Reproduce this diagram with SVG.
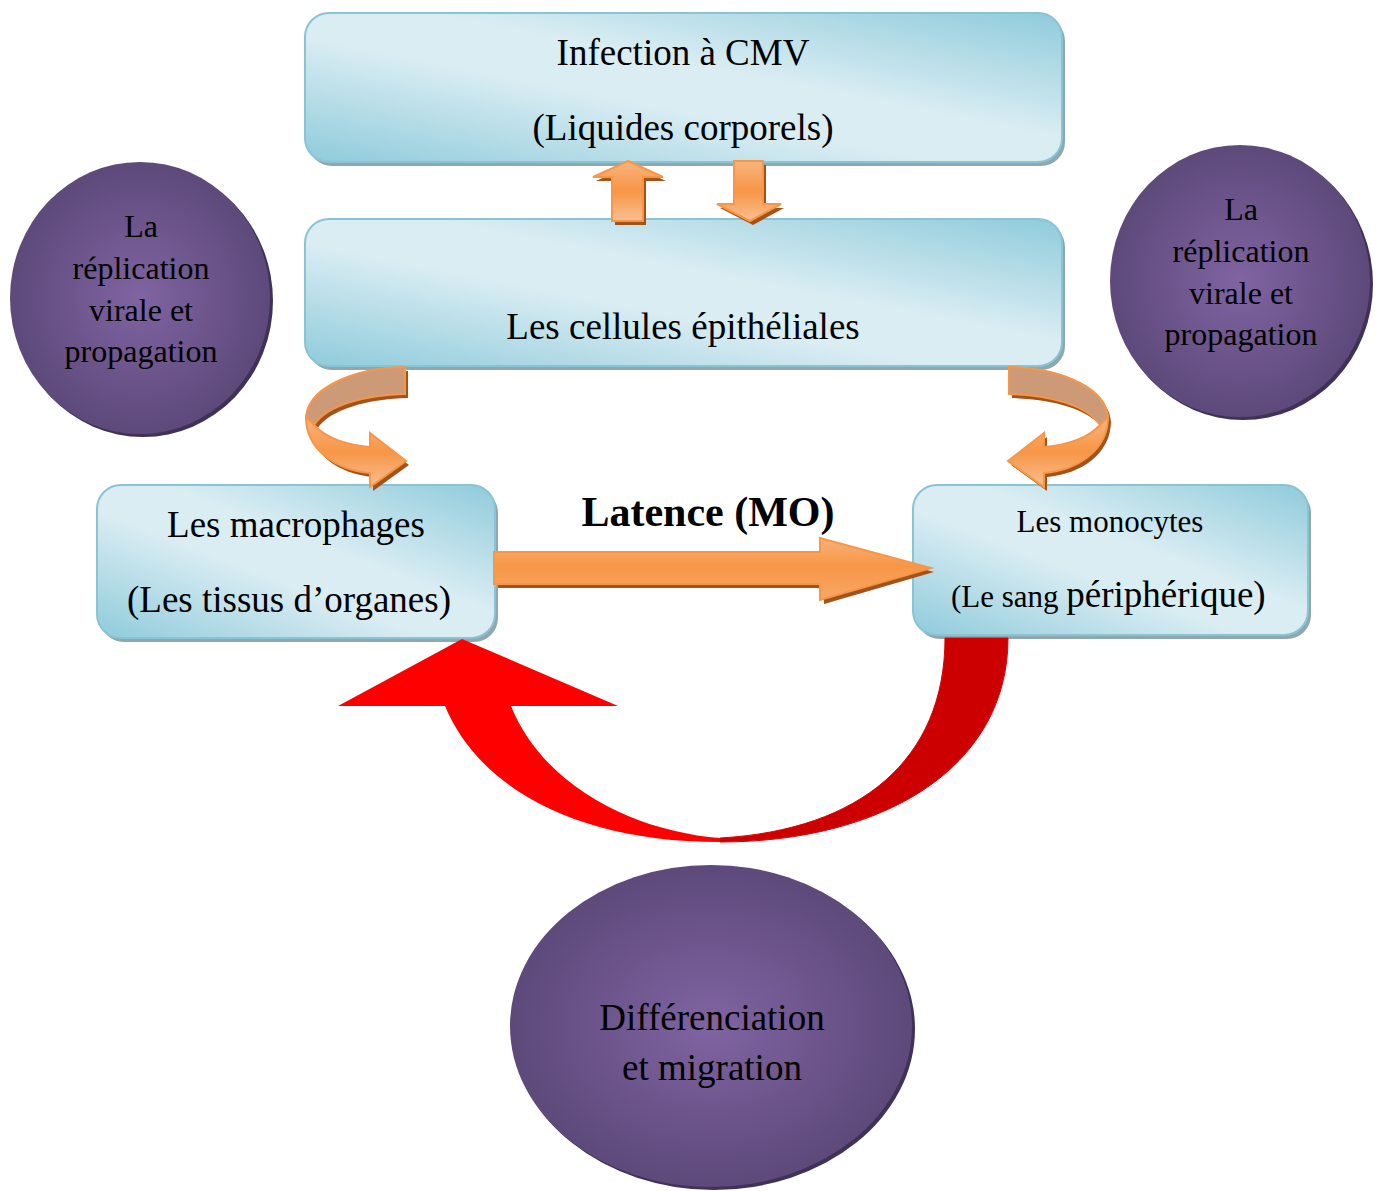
<svg xmlns="http://www.w3.org/2000/svg" xmlns:xlink="http://www.w3.org/1999/xlink" width="1379" height="1191" viewBox="0 0 1379 1191">
  <defs>
    <linearGradient id="boxFill" x1="1" y1="0" x2="0" y2="1">
      <stop offset="0" stop-color="#8FCBDB"/>
      <stop offset="0.42" stop-color="#DAEDF3"/>
      <stop offset="0.58" stop-color="#DAEDF3"/>
      <stop offset="1" stop-color="#8FCBDB"/>
    </linearGradient>
    <radialGradient id="ballFill" cx="0.5" cy="0.5" r="0.5">
      <stop offset="0" stop-color="#8064A2"/>
      <stop offset="1" stop-color="#5D497A"/>
    </radialGradient>
    <linearGradient id="orangeV" x1="0" y1="0" x2="0" y2="1">
      <stop offset="0" stop-color="#F9B47E"/>
      <stop offset="0.5" stop-color="#F79646"/>
      <stop offset="1" stop-color="#FABF90"/>
    </linearGradient>
    <linearGradient id="orangeH" x1="0" y1="0" x2="0" y2="1">
      <stop offset="0" stop-color="#F9B27A"/>
      <stop offset="0.45" stop-color="#F79646"/>
      <stop offset="1" stop-color="#F8A766"/>
    </linearGradient>
    <!-- curved ribbon arrow: back face + front face -->
    <path id="curlBack" d="M405 367 L405 394 C365 395 327 405 314 425 L306 419 C306 390 350 368 405 367 Z"/>
    <path id="curlFront" d="M306 417 C306 450 336 470 370 473 L370 487 L406 461 L370 433 L370 447 C346 445 326 438 314 425 Z"/>
  </defs>
  <style>
    .box { fill: url(#boxFill); stroke: #88C4D4; stroke-width: 2; }
    .boxShadow { fill: #8FA7AE; }
    .ball { fill: url(#ballFill); }
    .ballShadow { fill: #3F3158; }
    .t { font-family: "Liberation Serif", "Times New Roman", serif; fill: #000; text-anchor: middle; }
    .big { font-size: 37px; }
    .small { font-size: 32px; }
    .arrow { stroke: #F79646; stroke-width: 2; stroke-linejoin: miter; }
    .arrowShadow { fill: #A3521A; }
    .back { fill: #CC9A77; stroke: #F79646; stroke-width: 2; }
    .front { fill: url(#orangeV); stroke: #F79646; stroke-width: 2; }
  </style>
  <rect width="1379" height="1191" fill="#FFFFFF"/>

  <!-- Infection box -->
  <g id="node-infection">
    <rect class="boxShadow" x="308" y="17" width="757" height="149" rx="24"/>
    <rect class="box" x="305" y="13" width="757" height="149" rx="24"/>
    <text class="t big" x="683" y="65">Infection à CMV</text>
    <text class="t big" x="683" y="140">(Liquides corporels)</text>
  </g>

  <!-- Epithelial cells box -->
  <g id="node-epitheliales">
    <rect class="boxShadow" x="308" y="223" width="757" height="147" rx="24"/>
    <rect class="box" x="305" y="219" width="757" height="147" rx="24"/>
    <text class="t big" x="683" y="339">Les cellules épithéliales</text>
  </g>

  <!-- Macrophages box -->
  <g id="node-macrophages">
    <rect class="boxShadow" x="100" y="489" width="398" height="153" rx="24"/>
    <rect class="box" x="97" y="485" width="398" height="153" rx="24"/>
    <text class="t big" x="296" y="537">Les macrophages</text>
    <text class="t big" x="289" y="612">(Les tissus d’organes)</text>
  </g>

  <!-- Monocytes box -->
  <g id="node-monocytes">
    <rect class="boxShadow" x="916" y="489" width="395" height="150" rx="24"/>
    <rect class="box" x="913" y="485" width="395" height="150" rx="24"/>
    <text class="t" x="1110" y="532" font-size="31">Les monocytes</text>
    <text class="t" x="951" y="607" style="text-anchor:start"><tspan font-size="31">(Le sang </tspan><tspan font-size="37">périphérique)</tspan></text>
  </g>

  <!-- Replication bubbles -->
  <g id="node-replication-left">
    <ellipse class="ballShadow" cx="143" cy="301" rx="130" ry="136"/>
    <ellipse class="ball" cx="140" cy="298" rx="130" ry="136"/>
    <text class="t small" x="141" y="237">La</text>
    <text class="t small" x="141" y="279">réplication</text>
    <text class="t small" x="141" y="321">virale et</text>
    <text class="t small" x="141" y="362">propagation</text>
  </g>
  <g id="node-replication-right">
    <ellipse class="ballShadow" cx="1243" cy="284" rx="130" ry="136"/>
    <ellipse class="ball" cx="1240" cy="281" rx="130" ry="136"/>
    <text class="t small" x="1241" y="220">La</text>
    <text class="t small" x="1241" y="262">réplication</text>
    <text class="t small" x="1241" y="304">virale et</text>
    <text class="t small" x="1241" y="345">propagation</text>
  </g>

  <!-- Differentiation bubble -->
  <g id="node-differenciation">
    <ellipse class="ballShadow" cx="714" cy="1029" rx="201" ry="161"/>
    <ellipse class="ball" cx="711" cy="1026" rx="201" ry="161"/>
    <text class="t big" x="712" y="1030">Différenciation</text>
    <text class="t big" x="712" y="1080">et migration</text>
  </g>

  <g id="connectors">
    <!-- up arrow: epithelial cells to infection -->
    <path class="arrowShadow" d="M631 165 L666 181 L646 181 L646 225 L615 225 L615 181 L596 181 Z"/>
    <path class="arrow" fill="url(#orangeV)" d="M628 161 L663 177 L643 177 L643 221 L612 221 L612 177 L593 177 Z"/>

    <!-- down arrow: infection to epithelial cells -->
    <path class="arrowShadow" d="M737 165 L766 165 L766 208 L784 208 L753 225 L720 208 L737 208 Z"/>
    <path class="arrow" fill="url(#orangeV)" d="M734 161 L763 161 L763 204 L781 204 L750 221 L717 204 L734 204 Z"/>

    <!-- curved arrow: epithelial cells to macrophages -->
    <g id="curl-left">
      <use xlink:href="#curlBack" class="arrowShadow" transform="translate(3,4)"/>
      <use xlink:href="#curlFront" class="arrowShadow" transform="translate(3,4)"/>
      <use xlink:href="#curlBack" class="back"/>
      <use xlink:href="#curlFront" class="front"/>
    </g>

    <!-- curved arrow: epithelial cells to monocytes (mirrored) -->
    <g id="curl-right">
      <use xlink:href="#curlBack" class="arrowShadow" transform="translate(3,4) matrix(-1 0 0 1 1414 0)"/>
      <use xlink:href="#curlFront" class="arrowShadow" transform="translate(3,4) matrix(-1 0 0 1 1414 0)"/>
      <use xlink:href="#curlBack" class="back" transform="matrix(-1 0 0 1 1414 0)"/>
      <use xlink:href="#curlFront" class="front" transform="matrix(-1 0 0 1 1414 0)"/>
    </g>

    <!-- latency arrow: macrophages to monocytes -->
    <path class="arrowShadow" d="M498 557 L824 557 L824 543 L934 572 L824 604 L824 588 L498 588 Z"/>
    <path class="arrow" fill="url(#orangeH)" d="M494 552 L820 552 L820 538 L931 568 L820 600 L820 584 L494 584 Z"/>
    <text class="t" x="708" y="526" font-size="42" font-weight="bold">Latence (MO)</text>

    <!-- return arrow: monocytes back to macrophages -->
    <path fill="#CC0000" stroke="#E00000" stroke-width="1" d="M945 638 L1008 638 C1008 770 880 842 720 842 L720 838 C860 830 945 760 945 638 Z"/>
    <path fill="#FF0000" d="M720 842 C580 842 480 790 445 706 L338 706 L462 639 L618 706 L511 706 C545 790 640 832 720 838 Z"/>
  </g>
</svg>
